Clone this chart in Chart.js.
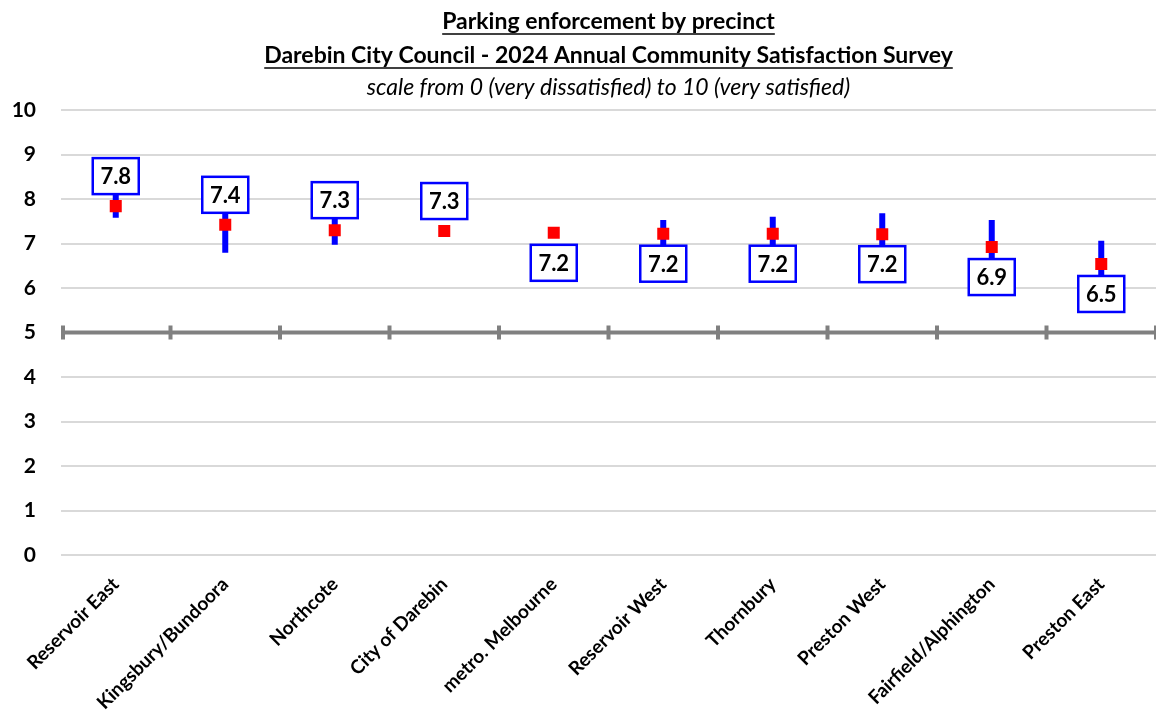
<!DOCTYPE html>
<html>
<head>
<meta charset="utf-8">
<script src="https://cdn.jsdelivr.net/npm/chart.js@4.4.1/dist/chart.umd.min.js"></script>
<style>
    body { margin: 0; background: #fff; }
    #wrap { width: 1156px; height: 723px; position: relative; }
</style>
</head>
<body>
<div id="wrap"><canvas id="precinct-chart"></canvas></div>
<script>
const precincts = ["Reservoir East", "Kingsbury/Bundoora", "Northcote", "City of Darebin", "metro. Melbourne",
                   "Reservoir West", "Thornbury", "Preston West", "Fairfield/Alphington", "Preston East"];

const meanScores = [7.84, 7.42, 7.30, 7.28, 7.24, 7.22, 7.22, 7.21, 6.92, 6.54];
const lowerBounds = [7.58, 6.79, 6.97, null, null, 6.90, 6.85, 6.75, 6.31, 6.04];
const upperBounds = [8.10, 8.05, 7.62, null, null, 7.53, 7.60, 7.68, 7.53, 7.06];

const yTicks = [0, 1, 2, 3, 4, 5, 6, 7, 8, 9, 10];

const fontFamily = "Lato, 'Open Sans', sans-serif";
const blue = '#0000ff';
const red = '#ff0000';
const axisGrey = '#808080';

// labels for the first few precincts sit above the point, the rest below
const labelsAboveCount = 4;


const errorBars = {
    id: 'errorBars',
    beforeDatasetsDraw(chart) {
        const ctx = chart.ctx;
        const x = chart.scales.x;
        const y = chart.scales.y;

        // thick axis line at 5 with tick marks between the categories
        const y5 = y.getPixelForValue(5);
        const step = x.getPixelForValue(1) - x.getPixelForValue(0);
        ctx.save();
        ctx.strokeStyle = axisGrey;
        ctx.lineWidth = 4;
        ctx.beginPath();
        ctx.moveTo(chart.chartArea.left, y5);
        ctx.lineTo(chart.chartArea.right, y5);
        ctx.stroke();
        ctx.beginPath();
        for (let i = 0; i <= precincts.length; i++) {
            const tx = x.getPixelForValue(i) - step / 2 + (i === 0 ? 2 : 0);
            ctx.moveTo(tx, y5 - 7);
            ctx.lineTo(tx, y5 + 7);
        }
        ctx.stroke();

        // confidence interval bars
        ctx.strokeStyle = blue;
        ctx.lineWidth = 6;
        ctx.beginPath();
        precincts.forEach((p, i) => {
            if (lowerBounds[i] === null) return;
            const px = x.getPixelForValue(i);
            ctx.moveTo(px, y.getPixelForValue(lowerBounds[i]));
            ctx.lineTo(px, y.getPixelForValue(upperBounds[i]));
        });
        ctx.stroke();
        ctx.restore();
    }
};

const valueBoxes = {
    id: 'valueBoxes',
    afterDatasetsDraw(chart) {
        const ctx = chart.ctx;
        const meta = chart.getDatasetMeta(0);
        const w = 46, h = 36, gap = 12;
        ctx.save();
        ctx.font = "bold 22px " + fontFamily;
        ctx.textAlign = 'center';
        ctx.textBaseline = 'middle';
        meta.data.forEach((pt, i) => {
            const top = i < labelsAboveCount ? pt.y - gap - h : pt.y + gap;
            const left = pt.x - w / 2;
            ctx.fillStyle = '#fff';
            ctx.fillRect(left, top, w, h);
            ctx.strokeStyle = blue;
            ctx.lineWidth = 2.5;
            ctx.strokeRect(left, top, w, h);
            ctx.fillStyle = '#000';
            ctx.fillText(meanScores[i].toFixed(1), pt.x, top + h / 2 + 1);
        });
        ctx.restore();
    }
};

const titleUnderline = {
    id: 'titleUnderline',
    afterDraw(chart) {
        const tb = chart.titleBlock;
        if (!tb) return;
        const ctx = chart.ctx;
        const opts = chart.options.plugins.title;
        const lines = opts.text;
        const lh = 34;
        const cx = (tb.left + tb.right) / 2;
        ctx.save();
        ctx.font = "bold 23px " + fontFamily;
        ctx.strokeStyle = '#000';
        ctx.lineWidth = 1.5;
        lines.forEach((line, i) => {
            const tw = ctx.measureText(line).width;
            const ly = tb.top + opts.padding.top + lh * i + lh / 2 + 12;
            ctx.beginPath();
            ctx.moveTo(cx - tw / 2, ly);
            ctx.lineTo(cx + tw / 2, ly);
            ctx.stroke();
        });
        ctx.restore();
    }
};


var precinctChart = new Chart(document.getElementById('precinct-chart'), {
    type: 'line',
    data: {
        labels: precincts,
        datasets: [{
            label: 'Mean satisfaction',
            data: meanScores,
            showLine: false,
            pointStyle: 'rect',
            pointRadius: 8.5,
            pointHoverRadius: 8.5,
            backgroundColor: red,
            borderColor: red,
            borderWidth: 0
        }]
    },
    options: {
        responsive: true,
        maintainAspectRatio: false,
        animation: false,
        layout: {
            autoPadding: false,
            padding: { left: 0, right: -3, top: 0, bottom: 0 }
        },
        plugins: {
            legend: { display: false },
            tooltip: { enabled: false },
            title: {
                display: true,
                fullSize: false,
                text: ['Parking enforcement by precinct',
                       'Darebin City Council - 2024 Annual Community Satisfaction Survey'],
                color: '#000',
                font: { family: fontFamily, size: 23, weight: 'bold', lineHeight: 34 / 23 },
                padding: { top: 5, bottom: 0 }
            },
            subtitle: {
                display: true,
                fullSize: false,
                text: 'scale from 0 (very dissatisfied) to 10 (very satisfied)',
                color: '#000',
                font: { family: fontFamily, size: 23, style: 'italic', lineHeight: 30 / 23 },
                padding: { top: 0, bottom: 7 }
            }
        },
        scales: {
            x: {
                offset: true,
                grid: { display: false },
                border: { display: false },
                ticks: {
                    color: '#000',
                    minRotation: 45,
                    maxRotation: 45,
                    autoSkip: false,
                    padding: 10,
                    font: { family: fontFamily, size: 19, weight: 'bold' }
                },
                afterFit: (scale) => {
                    scale.height = 168;
                    scale.paddingRight = 0;
                }
            },
            y: {
                min: 0,
                max: 10,
                afterBuildTicks: (scale) => { scale.ticks = yTicks.map(v => ({ value: v })); },
                grid: {
                    drawTicks: false,
                    lineWidth: 2,
                    color: (c) => c.tick && c.tick.value === 5 ? 'rgba(0,0,0,0)' : '#d9d9d9'
                },
                border: { display: false },
                ticks: {
                    color: '#000',
                    padding: 25,
                    font: { family: fontFamily, size: 21, weight: 'bold' }
                },
                afterFit: (scale) => { scale.width = 61; }
            }
        }
    },
    plugins: [errorBars, valueBoxes, titleUnderline]
});
</script>
</body>
</html>
